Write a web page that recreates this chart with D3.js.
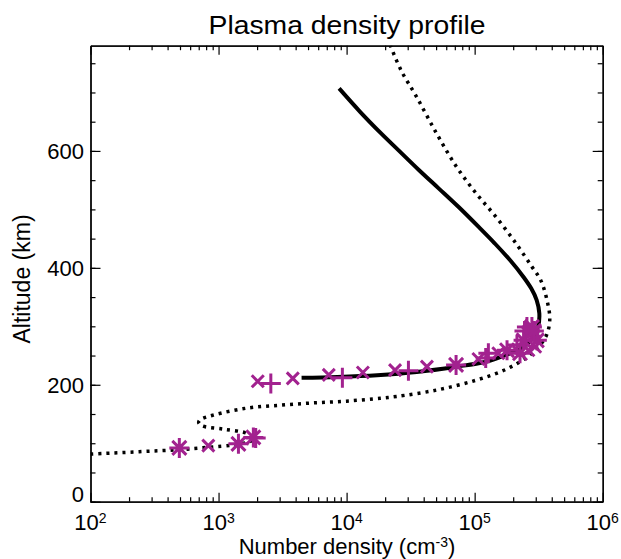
<!DOCTYPE html>
<html>
<head>
<meta charset="utf-8">
<script src="https://cdn.jsdelivr.net/npm/d3@7"></script>
<style>
body { margin: 0; background: #fff; }
svg { display: block; font-family: "Liberation Sans", Arial, Helvetica, sans-serif; }
</style>
</head>
<body>
<svg id="chart" width="621" height="559"></svg>
<script>
// model profile (solid), number density cm^-3 vs altitude km
const solidN = [4450, 8470, 17300, 35300, 72100, 120000, 170000, 243000, 281000, 313000, 320000, 305000, 276300, 241500, 189400, 143300, 107500, 74990, 52330, 36850, 25480, 18600, 12750, 8740];
const solidAlt = [212, 213.5, 216.5, 222, 231, 239, 250, 265, 280, 300, 322, 345, 365, 384, 413, 442, 470, 504, 536, 567, 601, 630, 667, 707];

// second profile (dotted)
const dotN = [100, 240, 490, 830, 1300, 1700, 1900, 1660, 1100, 740, 700, 717, 906, 1660, 3020, 5470, 10000, 18300, 24600, 50400, 103000, 182000, 280000, 359000, 386000, 367000, 328000, 280000, 210000, 147000, 103000, 72100, 50400, 35300, 26600, 22000];
const dotAlt = [81.5, 85.5, 89, 93, 97, 102, 107, 117, 124, 130, 135, 140, 148, 160, 165, 169, 172, 177, 180, 191, 208, 228, 254, 282, 311, 345, 379, 402, 442, 487, 527, 573, 630, 692, 738, 780];

// measurements
const plusN = [1950, 2560, 9270, 30400, 122000, 128000, 214000, 256000, 245000];
const plusAlt = [109, 202, 212, 224, 246, 254, 268, 299, 292];
const crossN = [832, 2024, 3800, 7260, 13400, 23900, 42400, 107000, 153000, 263000, 288000, 297000, 263000];
const crossAlt = [96, 206, 211, 217, 221, 225, 231, 244, 254, 288, 285, 265, 259];
const starN = [494, 1430, 1870, 71600, 179000, 226000, 241000, 280000, 306000, 290000];
const starAlt = [92, 99, 110, 234, 259, 254, 276, 299, 276, 292];

const xMajor = [1e2, 1e3, 1e4, 1e5, 1e6];
const xExp = ["2", "3", "4", "5", "6"];
const yMajor = [0, 200, 400, 600];
const yMinor = d3.range(0, 781, 50);

const svg = d3.select("#chart");
const pl = 90.5, pr = 602.7, pt = 45.7, pb = 501.7;
const x = d3.scaleLog().domain([1e2, 1e6]).range([pl, pr]);
const y = d3.scaleLinear().domain([0, 780]).range([pb, pt]);
const purple = "#a2228f";

svg.append("clipPath").attr("id", "plotclip")
	.append("rect")
	.attr("x", pl).attr("y", pt)
	.attr("width", pr - pl).attr("height", pb - pt);

const plot = svg.append("g").attr("clip-path", "url(#plotclip)");

const line = d3.line()
	.x(d => x(d[0]))
	.y(d => y(d[1]))
	.curve(d3.curveCatmullRom.alpha(0.5));

plot.append("path")
	.attr("d", line(dotN.map((n, i) => [n, dotAlt[i]])))
	.attr("fill", "none")
	.attr("stroke", "#000")
	.attr("stroke-width", 3.5)
	.attr("stroke-dasharray", "3,5");

plot.append("path")
	.attr("d", line(solidN.map((n, i) => [n, solidAlt[i]])))
	.attr("fill", "none")
	.attr("stroke", "#000")
	.attr("stroke-width", 4);

// marker shapes
const plusPath = r => `M${-r},0H${r}M0,${-r}V${r}`;
const crossPath = r => `M${-r},${-r}L${r},${r}M${-r},${r}L${r},${-r}`;
const starPath = (r, q) => plusPath(r) + crossPath(q);

function markers(ns, alts, d) {
	plot.append("g")
		.selectAll("path")
		.data(ns.map((n, i) => [n, alts[i]]))
		.join("path")
		.attr("transform", p => `translate(${x(p[0])},${y(p[1])})`)
		.attr("d", d)
		.attr("fill", "none")
		.attr("stroke", purple)
		.attr("stroke-width", 3);
}
markers(crossN, crossAlt, crossPath(6));
markers(plusN, plusAlt, plusPath(10));
markers(starN, starAlt, starPath(10, 7));

// axes with inward ticks
const xMinor = x.ticks().filter(v => !xMajor.includes(v));
function axis(gen, scale, vals, size, tr) {
	const g = svg.append("g")
		.attr("transform", tr)
		.call(gen(scale).tickValues(vals).tickSize(size).tickSizeOuter(0).tickFormat(""));
	g.select(".domain").attr("stroke", "#000").attr("stroke-width", 1.3);
	g.selectAll(".tick line").attr("stroke", "#000").attr("stroke-width", 1.2);
	return g;
}
axis(d3.axisBottom, x, xMinor, -4.5, `translate(0,${pb})`);
axis(d3.axisBottom, x, xMajor, -9, `translate(0,${pb})`);
axis(d3.axisTop, x, xMinor, -4.5, `translate(0,${pt})`);
axis(d3.axisTop, x, xMajor, -9, `translate(0,${pt})`);
axis(d3.axisLeft, y, yMinor, -5, `translate(${pl},0)`);
axis(d3.axisLeft, y, yMajor, -10, `translate(${pl},0)`);
axis(d3.axisRight, y, yMinor, -5, `translate(${pr},0)`);
axis(d3.axisRight, y, yMajor, -10, `translate(${pr},0)`);

// x tick labels 10^n
xMajor.forEach((v, i) => {
	const t = svg.append("text")
		.attr("x", x(v))
		.attr("y", 530)
		.attr("text-anchor", "middle")
		.attr("font-size", 22)
		.attr("fill", "#000");
	t.append("tspan").text("10");
	t.append("tspan").attr("dy", -7.5).attr("font-size", 14).text(xExp[i]);
});

// y tick labels
yMajor.forEach(v => {
	svg.append("text")
		.attr("x", 84)
		.attr("y", v === 0 ? pb : y(v) + 8)
		.attr("text-anchor", "end")
		.attr("font-size", 22)
		.attr("fill", "#000")
		.text(v);
});

svg.append("text")
	.attr("x", 347)
	.attr("y", 33.5)
	.attr("text-anchor", "middle")
	.attr("font-size", 25)
	.attr("textLength", 277)
	.attr("lengthAdjust", "spacingAndGlyphs")
	.text("Plasma density profile");

const xl = svg.append("text")
	.attr("x", 347)
	.attr("y", 554)
	.attr("text-anchor", "middle")
	.attr("font-size", 22);
xl.append("tspan").text("Number density (cm");
xl.append("tspan").attr("dy", -7).attr("font-size", 14).text("-3");
xl.append("tspan").attr("dy", 7).text(")");

svg.append("text")
	.attr("transform", "translate(30,279) rotate(-90)")
	.attr("text-anchor", "middle")
	.attr("font-size", 23)
	.text("Altitude (km)");
</script>
</body>
</html>
